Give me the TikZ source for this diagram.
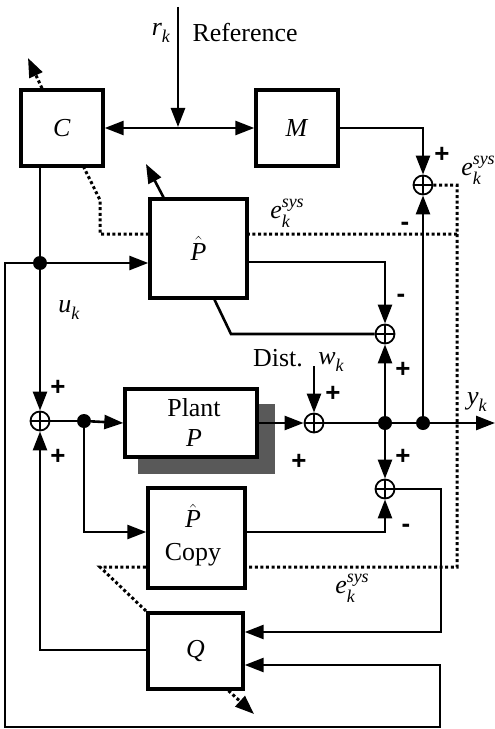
\documentclass[tikz,border=0pt]{standalone}
\usepackage{fontspec}
\setmainfont{Liberation Serif}
\newfontfamily\signfont{Liberation Sans}
\usetikzlibrary{arrows.meta,backgrounds,calc}
\newcommand\subk[1]{\textit{#1}\raisebox{-0.3em}{\fontsize{18}{18}\selectfont\textit{k}}}
\newcommand\esys{\textit{e}\makebox[0pt][l]{\raisebox{-0.34em}{\fontsize{18}{18}\selectfont\textit{k}}}\raisebox{0.42em}{\fontsize{18}{18}\selectfont\textit{sys}}}
\newcommand\phat{$\hat{\textit{P}}$}
\begin{document}
\begin{tikzpicture}[x=1bp,y=-1bp,
  >={Triangle[length=19bp,width=14bp]},
  font=\fontsize{26}{29}\selectfont,
  box/.style={draw,line width=3.4bp,fill=white,inner sep=0pt},
  sumj/.style={circle,draw,line width=1.8bp,minimum size=19bp,inner sep=0pt,fill=white,
    path picture={\draw[line width=1.4bp] (path picture bounding box.north) -- (path picture bounding box.south)
      (path picture bounding box.west) -- (path picture bounding box.east);}},
  dotj/.style={circle,fill,minimum size=14bp,inner sep=0pt},
  wire/.style={line width=2.6bp},
  dots/.style={line width=3bp,dash pattern=on 3bp off 2.6bp},
  sign/.style={font={\signfont\bfseries\fontsize{26}{26}\selectfont}},
  lbl/.style={inner sep=0pt}]
\useasboundingbox (0,0) rectangle (495,729);

% boxes
\node[box,minimum width=82bp,minimum height=76bp] (C) at (62,128) {\textit{C}};
\node[box,minimum width=82bp,minimum height=76bp] (M) at (297,128) {\textit{M}};
\node[box,minimum width=97bp,minimum height=99bp] (Ph) at (198.5,248.5) {\phat};
\node[box,minimum width=132bp,minimum height=68bp] (Plant) at (191,423) {};
\node[lbl] (plantt) at (194,408) {Plant};
\node[lbl] (plantp) at (194,438) {\textit{P}};
\node[box,minimum width=97bp,minimum height=100bp] (Cp) at (196.5,538) {};
\node[lbl] (cph) at (193,516) {\phat};
\node[lbl] (cpt) at (193,555) {Copy};
\node[box,minimum width=95bp,minimum height=76bp] (Q) at (195.5,651) {\textit{Q}};

% summing junctions and dots
\node[sumj] (s1) at (423,185) {};
\node[sumj] (s2) at (385,334) {};
\node[sumj] (s3) at (385,489) {};
\node[sumj] (s0) at (40,421) {};
\node[sumj] (sd) at (314,423) {};
\node[dotj] (du) at (40,263) {};
\node[dotj] (dp) at (84,421) {};
\node[dotj] (dy1) at (385,423) {};
\node[dotj] (dy2) at (423,423) {};

% coordinates
\coordinate (rtop) at (178,7);
\coordinate (rj) at (178,127);
\coordinate (m1) at (423,128);
\coordinate (ph1) at (385,262);
\coordinate (ph2) at (231,334);
\coordinate (bl1) at (5,263);
\coordinate (bl2) at (5,727);
\coordinate (bl3) at (440,727);
\coordinate (bl4) at (440,665);
\coordinate (cp1) at (84,532);
\coordinate (cp2) at (385,532);
\coordinate (s3a) at (441,489);
\coordinate (s3b) at (441,632);
\coordinate (q1) at (40,650);
\coordinate (wtop) at (314,366);
\coordinate (yend) at (495,423);
\coordinate (d1) at (457,185);
\coordinate (d2) at (457,567);
\coordinate (d3) at (100,567);
\coordinate (d4) at (457,234);
\coordinate (d5) at (100,234);
\coordinate (d6) at (100,200);
\coordinate (ca) at (28,58);
\coordinate (pa) at (146,164);
\coordinate (qa) at (254,714);

% background: shadow and dotted lines
\begin{pgfonlayer}{background}
\fill[black!65] (138,404) rectangle (275,474);
\draw[dots] (s1.east) -- (d1) -- (d2) -- (d3) -- (Q.north west);
\draw[dots] (d4) -- (d5) -- (d6) -- ([xshift=22bp]C.south);
\end{pgfonlayer}
\draw[dots,->] ([xshift=-20bp]C.north) -- (ca);
\draw[dots,->] ([xshift=33bp]Q.south) -- (qa);
\draw[wire,->] ([xshift=-35bp]Ph.north) -- (pa);

% solid connectors
\draw[wire,->] (rtop) -- (rj);
\draw[wire,<->] (C.east) -- (M.west);
\draw[wire,->] (M.east) -- (m1) -- (s1);
\draw[wire,->] (dy2) -- (s1);
\draw[wire] (C.south -| du) -- (du);
\draw[wire,->] (du) -- (s0);
\draw[wire,->] (du) -- (du -| Ph.west);
\draw[wire,->] (du) -- (bl1) -- (bl2) -- (bl3) -- (bl4) -- (bl4 -| Q.east);
\draw[wire,->] (ph1 -| Ph.east) -- (ph1) -- (s2);
\draw[wire] ([xshift=16bp]Ph.south) -- (ph2) -- (s2);
\draw[wire,->] (dy1) -- (s2);
\draw[wire] (s0) -- (dp);
\draw[wire,->] (dp) -- (Plant.west);
\draw[wire,->] (dp) -- (cp1) -- (cp1 -| Cp.west);
\draw[wire,->] (Plant.east) -- (sd);
\draw[wire,->] (wtop) -- (sd);
\draw[wire] (sd) -- (dy1) -- (dy2);
\draw[wire,->] (dy2) -- (yend);
\draw[wire,->] (dy1) -- (s3);
\draw[wire,->] (cp2 -| Cp.east) -- (cp2) -- (s3);
\draw[wire,->] (s3.east) -- (s3a) -- (s3b) -- (s3b -| Q.east);
\draw[wire,->] (q1 -| Q.west) -- (q1) -- (s0);

% labels
\node[lbl] (lr) at (161,33) {\subk{r}};
\node[lbl] (lref) at (245,33) {Reference};
\node[lbl] (lu) at (69,310) {\subk{u}};
\node[lbl] (ldist) at (278,358) {Dist.};
\node[lbl] (lw) at (331,362) {\subk{w}};
\node[lbl] (ly) at (477,402) {\subk{y}};
\node[lbl] (le1) at (478,170) {\esys};
\node[lbl] (le2) at (287,213) {\esys};
\node[lbl] (le3) at (352,588) {\esys};

% signs
\node[sign,lbl] at (442,155) {+};
\node[sign,lbl] at (405,226) {-};
\node[sign,lbl] at (401,298) {-};
\node[sign,lbl] at (403,370) {+};
\node[sign,lbl] at (333,394) {+};
\node[sign,lbl] at (299,462) {+};
\node[sign,lbl] at (403,457) {+};
\node[sign,lbl] at (406,528) {-};
\node[sign,lbl] at (58,388) {+};
\node[sign,lbl] at (58,457) {+};
\end{tikzpicture}
\end{document}
